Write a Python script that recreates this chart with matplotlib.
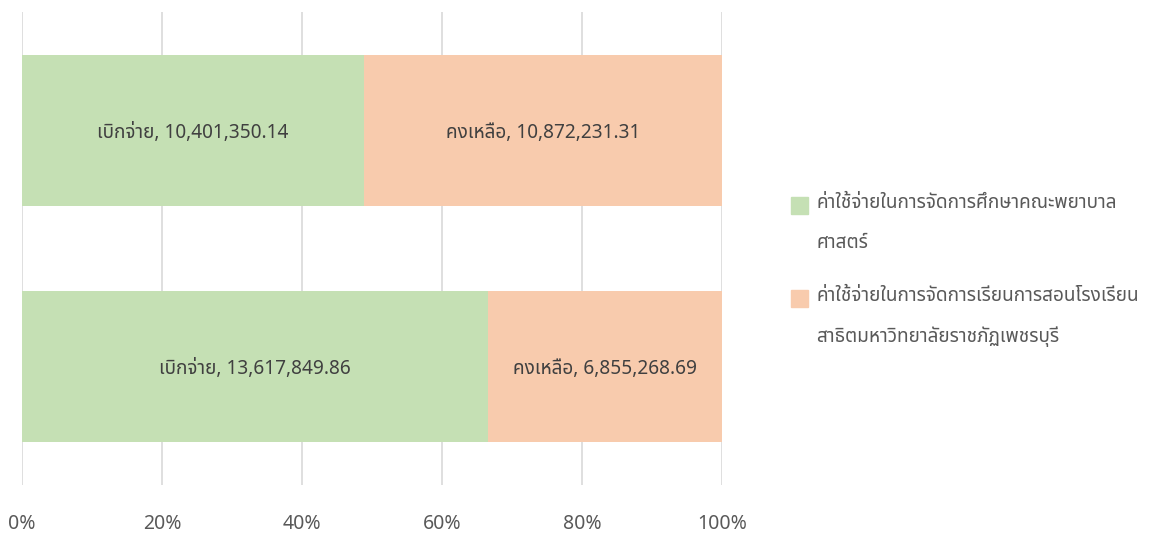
import matplotlib
matplotlib.use("Agg")
import matplotlib.pyplot as plt
from matplotlib.patches import Rectangle
from matplotlib.ticker import PercentFormatter

plt.rcParams['font.family'] = ['Noto Sans Thai', 'Noto Sans', 'DejaVu Sans']

# data (bottom bar first)
series_names = ['ค่าใช้จ่ายในการจัดการศึกษาคณะพยาบาล\nศาสตร์',
                'ค่าใช้จ่ายในการจัดการเรียนการสอนโรงเรียน\nสาธิตมหาวิทยาลัยราชภัฏเพชรบุรี']
seg_names = ['เบิกจ่าย', 'คงเหลือ']
spent = [13617849.86, 10401350.14]
remain = [6855268.69, 10872231.31]
tick_vals = [0, 20, 40, 60, 80, 100]

green = '#c5e0b4'
orange = '#f8cbad'

fig = plt.figure(figsize=(11.66, 5.35), dpi=100)
ax = fig.add_axes([0.0189, 0.0935, 0.6003, 0.884])

ypos = list(range(len(spent)))
tot = [a + b for a, b in zip(spent, remain)]
p_spent = [100 * a / t for a, t in zip(spent, tot)]
p_remain = [100 * b / t for b, t in zip(remain, tot)]

ax.barh(ypos, p_spent, height=0.64, color=green, zorder=2)
ax.barh(ypos, p_remain, left=p_spent, height=0.64, color=orange, zorder=2)

for y, ps, pr, s, r in zip(ypos, p_spent, p_remain, spent, remain):
    ax.text(ps / 2, y, '%s, %s' % (seg_names[0], format(s, ',.2f')),
            ha='center', va='center_baseline', fontsize=13.7, color='#404040', zorder=3)
    ax.text(ps + pr / 2, y, '%s, %s' % (seg_names[1], format(r, ',.2f')),
            ha='center', va='center_baseline', fontsize=13.7, color='#404040', zorder=3)

ax.set_xlim(0, 100)
ax.set_ylim(-0.5, 1.5)
ax.set_xticks(tick_vals)
ax.xaxis.set_major_formatter(PercentFormatter(decimals=0))
ax.set_yticks([])
ax.grid(axis='x', color='#d9d9d9', linewidth=1.2, zorder=0)
for sp in ax.spines.values():
    sp.set_visible(False)
ax.tick_params(axis='x', length=0, pad=21, labelsize=14, labelcolor='#595959')

# legend drawn by hand so the square sits on the first line
leg_colors = [green, orange]
for i, (name, c) in enumerate(zip(series_names, leg_colors)):
    y0 = 206 + i * 93
    fig.add_artist(Rectangle((791 / 1166, 1 - (y0 + 8) / 535), 17 / 1166, 17 / 535,
                             transform=fig.transFigure, color=c))
    fig.text(816 / 1166, 1 - (y0 - 13) / 535, name, ha='left', va='top',
             fontsize=13.7, color='#595959', linespacing=2.3)

fig.savefig('out.png', dpi=100)
